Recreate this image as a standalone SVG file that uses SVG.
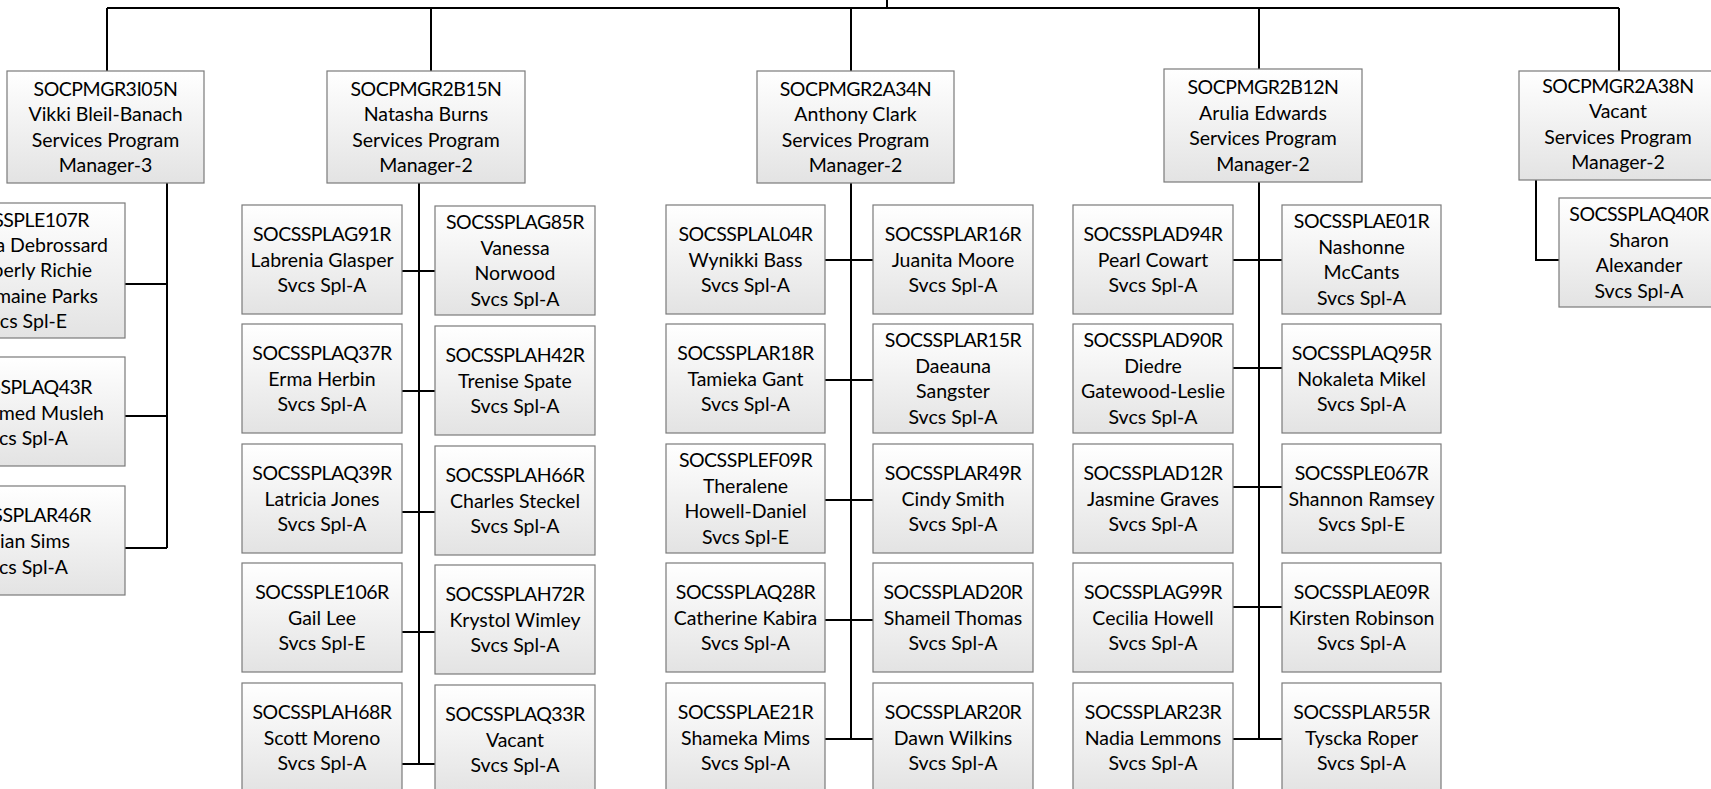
<svg xmlns="http://www.w3.org/2000/svg" width="1711" height="789" viewBox="0 0 1711 789">
<defs>
<linearGradient id="g" x1="0" y1="0" x2="0" y2="1">
<stop offset="0" stop-color="#ffffff"/>
<stop offset="1" stop-color="#e3e3e3"/>
</linearGradient>
<style>
.b{fill:url(#g);stroke:#7a7a7a;stroke-width:1.2}
.t{font-family:Lato,"Liberation Sans",sans-serif;font-size:19.5px;fill:#000;text-anchor:middle;transform:translate(0px,1px)}
.e{text-anchor:end}
.k{letter-spacing:-0.5px}
.c{fill:none;stroke:#000;stroke-width:2}
</style>
</defs>
<rect x="0" y="0" width="1711" height="789" fill="#ffffff"/>
<g id="connectors" class="c">
<path d="M107 8H1619M887 0V8"/>
<path d="M107 8V71M431 8V71M851 8V71M1259 8V69M1619 8V71"/>
<path d="M167 183V548M125 284H167M125 416H167M125 548H167"/>
<path d="M419 183V764M402 271H435M402 391H435M402 512H435M402 632H435M402 764H435"/>
<path d="M851 183V739M825 260H873M825 380H873M825 500H873M825 620H873M825 739H873"/>
<path d="M1259 182V739M1233 260H1282M1233 368H1282M1233 487H1282M1233 607H1282M1233 739H1282"/>
<path d="M1536 180V260H1559"/>
</g>

<g id="m1"><rect class="b" x="7" y="71" width="197" height="112"/>
<text class="t" y="94.75"><tspan class="k" x="105.5">SOCPMGR3I05N</tspan><tspan x="105.5" dy="25.5">Vikki Bleil-Banach</tspan><tspan x="105.5" dy="25.5">Services Program</tspan><tspan x="105.5" dy="25.5">Manager-3</tspan></text></g>
<g id="m2"><rect class="b" x="327" y="71" width="198" height="112"/>
<text class="t" y="94.75"><tspan class="k" x="426">SOCPMGR2B15N</tspan><tspan x="426" dy="25.5">Natasha Burns</tspan><tspan x="426" dy="25.5">Services Program</tspan><tspan x="426" dy="25.5">Manager-2</tspan></text></g>
<g id="m3"><rect class="b" x="757" y="71" width="197" height="112"/>
<text class="t" y="94.75"><tspan class="k" x="855.5">SOCPMGR2A34N</tspan><tspan x="855.5" dy="25.5">Anthony Clark</tspan><tspan x="855.5" dy="25.5">Services Program</tspan><tspan x="855.5" dy="25.5">Manager-2</tspan></text></g>
<g id="m4"><rect class="b" x="1164" y="69" width="198" height="113"/>
<text class="t" y="93.25"><tspan class="k" x="1263">SOCPMGR2B12N</tspan><tspan x="1263" dy="25.5">Arulia Edwards</tspan><tspan x="1263" dy="25.5">Services Program</tspan><tspan x="1263" dy="25.5">Manager-2</tspan></text></g>
<g id="m5"><rect class="b" x="1519" y="71" width="198" height="109"/>
<text class="t" y="91.75"><tspan class="k" x="1618">SOCPMGR2A38N</tspan><tspan x="1618" dy="25.5">Vacant</tspan><tspan x="1618" dy="25.5">Services Program</tspan><tspan x="1618" dy="25.5">Manager-2</tspan></text></g>

<g id="m1a"><rect class="b" x="-73" y="203" width="198" height="135"/>
<text class="t e"><tspan class="k" x="89" y="226">SOCSSPLE107R</tspan><tspan x="108" y="251">a Debrossard</tspan><tspan x="92" y="276">berly Richie</tspan><tspan x="98" y="302">maine Parks</tspan><tspan x="67" y="327">Svcs Spl-E</tspan></text></g>
<g id="m1b"><rect class="b" x="-73" y="357" width="198" height="109"/>
<text class="t e"><tspan class="k" x="92" y="393">SOCSSPLAQ43R</tspan><tspan x="104" y="419">med Musleh</tspan><tspan x="68" y="444">Svcs Spl-A</tspan></text></g>
<g id="m1c"><rect class="b" x="-73" y="486" width="198" height="109"/>
<text class="t e"><tspan class="k" x="91" y="521">SOCSSPLAR46R</tspan><tspan x="70" y="547">ian Sims</tspan><tspan x="68" y="573">Svcs Spl-A</tspan></text></g>

<g id="m2l1"><rect class="b" x="242" y="205" width="160" height="109"/>
<text class="t" y="240"><tspan class="k" x="322">SOCSSPLAG91R</tspan><tspan x="322" dy="25.5">Labrenia Glasper</tspan><tspan x="322" dy="25.5">Svcs Spl-A</tspan></text></g>
<g id="m2r1"><rect class="b" x="435" y="206" width="160" height="109"/>
<text class="t" y="228.25"><tspan class="k" x="515">SOCSSPLAG85R</tspan><tspan x="515" dy="25.5">Vanessa</tspan><tspan x="515" dy="25.5">Norwood</tspan><tspan x="515" dy="25.5">Svcs Spl-A</tspan></text></g>
<g id="m2l2"><rect class="b" x="242" y="324" width="160" height="109"/>
<text class="t" y="359"><tspan class="k" x="322">SOCSSPLAQ37R</tspan><tspan x="322" dy="25.5">Erma Herbin</tspan><tspan x="322" dy="25.5">Svcs Spl-A</tspan></text></g>
<g id="m2r2"><rect class="b" x="435" y="326" width="160" height="109"/>
<text class="t" y="361"><tspan class="k" x="515">SOCSSPLAH42R</tspan><tspan x="515" dy="25.5">Trenise Spate</tspan><tspan x="515" dy="25.5">Svcs Spl-A</tspan></text></g>
<g id="m2l3"><rect class="b" x="242" y="444" width="160" height="109"/>
<text class="t" y="479"><tspan class="k" x="322">SOCSSPLAQ39R</tspan><tspan x="322" dy="25.5">Latricia Jones</tspan><tspan x="322" dy="25.5">Svcs Spl-A</tspan></text></g>
<g id="m2r3"><rect class="b" x="435" y="446" width="160" height="109"/>
<text class="t" y="481"><tspan class="k" x="515">SOCSSPLAH66R</tspan><tspan x="515" dy="25.5">Charles Steckel</tspan><tspan x="515" dy="25.5">Svcs Spl-A</tspan></text></g>
<g id="m2l4"><rect class="b" x="242" y="563" width="160" height="109"/>
<text class="t" y="598"><tspan class="k" x="322">SOCSSPLE106R</tspan><tspan x="322" dy="25.5">Gail Lee</tspan><tspan x="322" dy="25.5">Svcs Spl-E</tspan></text></g>
<g id="m2r4"><rect class="b" x="435" y="565" width="160" height="109"/>
<text class="t" y="600"><tspan class="k" x="515">SOCSSPLAH72R</tspan><tspan x="515" dy="25.5">Krystol Wimley</tspan><tspan x="515" dy="25.5">Svcs Spl-A</tspan></text></g>
<g id="m2l5"><rect class="b" x="242" y="683" width="160" height="109"/>
<text class="t" y="718"><tspan class="k" x="322">SOCSSPLAH68R</tspan><tspan x="322" dy="25.5">Scott Moreno</tspan><tspan x="322" dy="25.5">Svcs Spl-A</tspan></text></g>
<g id="m2r5"><rect class="b" x="435" y="685" width="160" height="109"/>
<text class="t" y="720"><tspan class="k" x="515">SOCSSPLAQ33R</tspan><tspan x="515" dy="25.5">Vacant</tspan><tspan x="515" dy="25.5">Svcs Spl-A</tspan></text></g>

<g id="m3l1"><rect class="b" x="666" y="205" width="159" height="109"/>
<text class="t" y="240"><tspan class="k" x="745.5">SOCSSPLAL04R</tspan><tspan x="745.5" dy="25.5">Wynikki Bass</tspan><tspan x="745.5" dy="25.5">Svcs Spl-A</tspan></text></g>
<g id="m3r1"><rect class="b" x="873" y="205" width="160" height="109"/>
<text class="t" y="240"><tspan class="k" x="953">SOCSSPLAR16R</tspan><tspan x="953" dy="25.5">Juanita Moore</tspan><tspan x="953" dy="25.5">Svcs Spl-A</tspan></text></g>
<g id="m3l2"><rect class="b" x="666" y="324" width="159" height="109"/>
<text class="t" y="359"><tspan class="k" x="745.5">SOCSSPLAR18R</tspan><tspan x="745.5" dy="25.5">Tamieka Gant</tspan><tspan x="745.5" dy="25.5">Svcs Spl-A</tspan></text></g>
<g id="m3r2"><rect class="b" x="873" y="324" width="160" height="109"/>
<text class="t" y="346.25"><tspan class="k" x="953">SOCSSPLAR15R</tspan><tspan x="953" dy="25.5">Daeauna</tspan><tspan x="953" dy="25.5">Sangster</tspan><tspan x="953" dy="25.5">Svcs Spl-A</tspan></text></g>
<g id="m3l3"><rect class="b" x="666" y="444" width="159" height="109"/>
<text class="t" y="466.25"><tspan class="k" x="745.5">SOCSSPLEF09R</tspan><tspan x="745.5" dy="25.5">Theralene</tspan><tspan x="745.5" dy="25.5">Howell-Daniel</tspan><tspan x="745.5" dy="25.5">Svcs Spl-E</tspan></text></g>
<g id="m3r3"><rect class="b" x="873" y="444" width="160" height="109"/>
<text class="t" y="479"><tspan class="k" x="953">SOCSSPLAR49R</tspan><tspan x="953" dy="25.5">Cindy Smith</tspan><tspan x="953" dy="25.5">Svcs Spl-A</tspan></text></g>
<g id="m3l4"><rect class="b" x="666" y="563" width="159" height="109"/>
<text class="t" y="598"><tspan class="k" x="745.5">SOCSSPLAQ28R</tspan><tspan x="745.5" dy="25.5">Catherine Kabira</tspan><tspan x="745.5" dy="25.5">Svcs Spl-A</tspan></text></g>
<g id="m3r4"><rect class="b" x="873" y="563" width="160" height="109"/>
<text class="t" y="598"><tspan class="k" x="953">SOCSSPLAD20R</tspan><tspan x="953" dy="25.5">Shameil Thomas</tspan><tspan x="953" dy="25.5">Svcs Spl-A</tspan></text></g>
<g id="m3l5"><rect class="b" x="666" y="683" width="159" height="109"/>
<text class="t" y="718"><tspan class="k" x="745.5">SOCSSPLAE21R</tspan><tspan x="745.5" dy="25.5">Shameka Mims</tspan><tspan x="745.5" dy="25.5">Svcs Spl-A</tspan></text></g>
<g id="m3r5"><rect class="b" x="873" y="683" width="160" height="109"/>
<text class="t" y="718"><tspan class="k" x="953">SOCSSPLAR20R</tspan><tspan x="953" dy="25.5">Dawn Wilkins</tspan><tspan x="953" dy="25.5">Svcs Spl-A</tspan></text></g>

<g id="m4l1"><rect class="b" x="1073" y="205" width="160" height="109"/>
<text class="t" y="240"><tspan class="k" x="1153">SOCSSPLAD94R</tspan><tspan x="1153" dy="25.5">Pearl Cowart</tspan><tspan x="1153" dy="25.5">Svcs Spl-A</tspan></text></g>
<g id="m4r1"><rect class="b" x="1282" y="205" width="159" height="109"/>
<text class="t" y="227.25"><tspan class="k" x="1361.5">SOCSSPLAE01R</tspan><tspan x="1361.5" dy="25.5">Nashonne</tspan><tspan x="1361.5" dy="25.5">McCants</tspan><tspan x="1361.5" dy="25.5">Svcs Spl-A</tspan></text></g>
<g id="m4l2"><rect class="b" x="1073" y="324" width="160" height="109"/>
<text class="t" y="346.25"><tspan class="k" x="1153">SOCSSPLAD90R</tspan><tspan x="1153" dy="25.5">Diedre</tspan><tspan x="1153" dy="25.5">Gatewood-Leslie</tspan><tspan x="1153" dy="25.5">Svcs Spl-A</tspan></text></g>
<g id="m4r2"><rect class="b" x="1282" y="324" width="159" height="109"/>
<text class="t" y="359"><tspan class="k" x="1361.5">SOCSSPLAQ95R</tspan><tspan x="1361.5" dy="25.5">Nokaleta Mikel</tspan><tspan x="1361.5" dy="25.5">Svcs Spl-A</tspan></text></g>
<g id="m4l3"><rect class="b" x="1073" y="444" width="160" height="109"/>
<text class="t" y="479"><tspan class="k" x="1153">SOCSSPLAD12R</tspan><tspan x="1153" dy="25.5">Jasmine Graves</tspan><tspan x="1153" dy="25.5">Svcs Spl-A</tspan></text></g>
<g id="m4r3"><rect class="b" x="1282" y="444" width="159" height="109"/>
<text class="t" y="479"><tspan class="k" x="1361.5">SOCSSPLE067R</tspan><tspan x="1361.5" dy="25.5">Shannon Ramsey</tspan><tspan x="1361.5" dy="25.5">Svcs Spl-E</tspan></text></g>
<g id="m4l4"><rect class="b" x="1073" y="563" width="160" height="109"/>
<text class="t" y="598"><tspan class="k" x="1153">SOCSSPLAG99R</tspan><tspan x="1153" dy="25.5">Cecilia Howell</tspan><tspan x="1153" dy="25.5">Svcs Spl-A</tspan></text></g>
<g id="m4r4"><rect class="b" x="1282" y="563" width="159" height="109"/>
<text class="t" y="598"><tspan class="k" x="1361.5">SOCSSPLAE09R</tspan><tspan x="1361.5" dy="25.5">Kirsten Robinson</tspan><tspan x="1361.5" dy="25.5">Svcs Spl-A</tspan></text></g>
<g id="m4l5"><rect class="b" x="1073" y="683" width="160" height="109"/>
<text class="t" y="718"><tspan class="k" x="1153">SOCSSPLAR23R</tspan><tspan x="1153" dy="25.5">Nadia Lemmons</tspan><tspan x="1153" dy="25.5">Svcs Spl-A</tspan></text></g>
<g id="m4r5"><rect class="b" x="1282" y="683" width="159" height="109"/>
<text class="t" y="718"><tspan class="k" x="1361.5">SOCSSPLAR55R</tspan><tspan x="1361.5" dy="25.5">Tyscka Roper</tspan><tspan x="1361.5" dy="25.5">Svcs Spl-A</tspan></text></g>

<g id="m5a"><rect class="b" x="1559" y="198" width="160" height="109"/>
<text class="t" y="220.25"><tspan class="k" x="1639">SOCSSPLAQ40R</tspan><tspan x="1639" dy="25.5">Sharon</tspan><tspan x="1639" dy="25.5">Alexander</tspan><tspan x="1639" dy="25.5">Svcs Spl-A</tspan></text></g>
</svg>
